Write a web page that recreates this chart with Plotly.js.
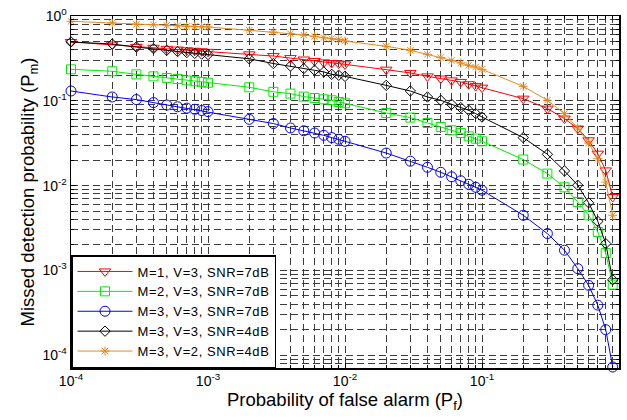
<!DOCTYPE html>
<html>
<head>
<meta charset="utf-8">
<script src="https://cdn.plot.ly/plotly-3.0.1.min.js"></script>
<style>
  html, body { margin: 0; padding: 0; background: #fff; }
  #chart { width: 627px; height: 420px; }
  .legendtext { letter-spacing: 0.6px; }
</style>
</head>
<body>
<div id="chart"></div>
<script>
// Probability of false alarm (x values)
const pf = [
  1e-4, 2e-4, 3e-4, 4e-4, 5e-4, 6e-4, 7e-4, 8e-4, 9e-4,
  1e-3, 2e-3, 3e-3, 4e-3, 5e-3, 6e-3, 7e-3, 8e-3, 9e-3,
  1e-2, 2e-2, 3e-2, 4e-2, 5e-2, 6e-2, 7e-2, 8e-2, 9e-2,
  1e-1, 2e-1, 3e-1, 4e-1, 5e-1, 6e-1, 7e-1, 8e-1, 9e-1
];

// Missed detection probability for each configuration
const pm_M1_V3_7dB = [
  0.494, 0.460, 0.433, 0.422, 0.410, 0.402, 0.394, 0.389, 0.383,
  0.378, 0.353, 0.337, 0.319, 0.307, 0.295, 0.284, 0.279, 0.275,
  0.269, 0.233, 0.213, 0.194, 0.183, 0.174, 0.167, 0.157, 0.149,
  0.143, 0.106, 0.0809, 0.0617, 0.0470, 0.0342, 0.0238, 0.0151, 0.00734
];
const pm_M2_V3_7dB = [
  0.235, 0.223, 0.205, 0.194, 0.186, 0.181, 0.174, 0.170, 0.167,
  0.1634, 0.1443, 0.1277, 0.1216, 0.1121, 0.1079, 0.1041, 0.1014, 0.0968,
  0.0934, 0.0718, 0.0634, 0.0547, 0.0491, 0.0449, 0.0417, 0.0381, 0.0358,
  0.0333, 0.0203, 0.01385, 0.00955, 0.00641, 0.00447, 0.00284, 0.00160, 0.000680
];
const pm_M3_V3_7dB = [
  0.1305, 0.1109, 0.1033, 0.0953, 0.0892, 0.0850, 0.0820, 0.0794, 0.0768,
  0.0746, 0.0605, 0.0539, 0.0478, 0.0443, 0.0417, 0.0392, 0.0368, 0.0352,
  0.0333, 0.0242, 0.0194, 0.01644, 0.01435, 0.01270, 0.01140, 0.01036, 0.00955,
  0.00881, 0.00447, 0.00272, 0.00173, 0.00105, 0.000667, 0.000389, 0.000200, 0.0000726
];
const pm_M3_V3_4dB = [
  0.494, 0.467, 0.430, 0.413, 0.394, 0.381, 0.371, 0.363, 0.356,
  0.351, 0.313, 0.275, 0.257, 0.240, 0.229, 0.219, 0.205, 0.200,
  0.194, 0.152, 0.1305, 0.1109, 0.1014, 0.0909, 0.0831, 0.0773, 0.0706,
  0.0644, 0.0368, 0.0234, 0.0149, 0.0101, 0.00627, 0.00379, 0.00207, 0.000775
];
const pm_M3_V2_4dB = [
  0.866, 0.827, 0.798, 0.788, 0.777, 0.766, 0.756, 0.750, 0.746,
  0.742, 0.678, 0.647, 0.617, 0.596, 0.576, 0.556, 0.541, 0.527,
  0.507, 0.439, 0.394, 0.353, 0.323, 0.300, 0.279, 0.262, 0.250,
  0.235, 0.148, 0.1014, 0.0706, 0.0478, 0.0318, 0.0208, 0.0110, 0.00447
];

const seriesNames = [
  'M=1, V=3, SNR=7dB',
  'M=2, V=3, SNR=7dB',
  'M=3, V=3, SNR=7dB',
  'M=3, V=3, SNR=4dB',
  'M=3, V=2, SNR=4dB'
];

const xTickVals = [1e-4, 1e-3, 1e-2, 1e-1, 1];
const xTickText = ['10<sup>-4</sup>', '10<sup>-3</sup>', '10<sup>-2</sup>', '10<sup>-1</sup>', '10<sup>0</sup>'];
const yTickVals = [1e-4, 1e-3, 1e-2, 1e-1, 1];
const yTickText = ['10<sup>-4</sup>', '10<sup>-3</sup>', '10<sup>-2</sup>', '10<sup>-1</sup>', '10<sup>0</sup>'];

const styles = [
  { color: '#ff0000', symbol: 'triangle-down-open', size: 10 },
  { color: '#00ee00', symbol: 'square-open', size: 9 },
  { color: '#0000ff', symbol: 'circle-open', size: 10 },
  { color: '#000000', symbol: 'diamond-open', size: 8 },
  { color: '#e8891c', symbol: 'asterisk-open', size: 7.5 }
];
const ys = [pm_M1_V3_7dB, pm_M2_V3_7dB, pm_M3_V3_7dB, pm_M3_V3_4dB, pm_M3_V2_4dB];

const traces = ys.map((y, i) => ({
  x: pf,
  y: y,
  name: seriesNames[i],
  type: 'scatter',
  mode: 'lines+markers',
  cliponaxis: false,
  line: { color: styles[i].color, width: 1 },
  marker: {
    symbol: styles[i].symbol,
    size: styles[i].size,
    color: styles[i].color,
    line: { color: styles[i].color, width: 1 }
  }
}));

const gridStyle = { showgrid: true, gridcolor: '#3c3c3c', gridwidth: 1, griddash: '7px,4px' };

const layout = {
  width: 627,
  height: 420,
  margin: { l: 71, r: 8, t: 16, b: 52 },
  paper_bgcolor: '#ffffff',
  plot_bgcolor: '#ffffff',
  font: { family: '"Liberation Sans", Arial, sans-serif', color: '#000' },
  showlegend: true,
  xaxis: Object.assign({
    type: 'log',
    range: [-4, 0],
    tickmode: 'array',
    tickvals: xTickVals,
    ticktext: xTickText,
    tickfont: { size: 14 },
    ticks: 'inside',
    ticklen: 5,
    tickcolor: '#000',
    showline: true,
    linecolor: '#000',
    linewidth: 1.5,
    mirror: 'ticks',
    zeroline: false,
    minor: Object.assign({ dtick: 'D1', ticks: 'inside', ticklen: 3, tickcolor: '#000' }, gridStyle),
    title: { text: 'Probability of false alarm (P<sub>f</sub>)', font: { size: 18.5 }, standoff: 5 }
  }, gridStyle),
  yaxis: Object.assign({
    type: 'log',
    range: [-4.151, 0],
    tickmode: 'array',
    tickvals: yTickVals,
    ticktext: yTickText,
    tickfont: { size: 14 },
    ticks: 'inside',
    ticklen: 5,
    tickcolor: '#000',
    showline: true,
    linecolor: '#000',
    linewidth: 1.5,
    mirror: 'ticks',
    zeroline: false,
    minor: Object.assign({ dtick: 'D1', ticks: 'inside', ticklen: 3, tickcolor: '#000' }, gridStyle),
    title: { text: 'Missed detection probability (P<sub>m</sub>)', font: { size: 18.5 }, standoff: 3 }
  }, gridStyle),
  legend: {
    x: 0, y: 0, xanchor: 'left', yanchor: 'bottom',
    bgcolor: '#ffffff',
    bordercolor: '#000',
    borderwidth: 1.5,
    font: { size: 13 },
    tracegroupgap: 0,
    itemwidth: 55
  }
};

Plotly.newPlot('chart', traces, layout, { displayModeBar: false, staticPlot: true });
</script>
</body>
</html>
